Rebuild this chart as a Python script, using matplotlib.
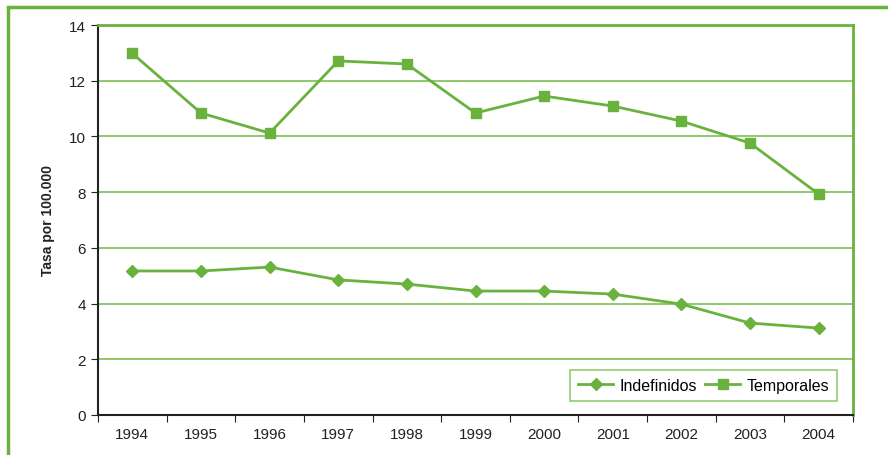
import matplotlib
matplotlib.use("Agg")
import matplotlib.pyplot as plt
from matplotlib.patches import Rectangle
from matplotlib.ticker import FixedLocator, NullFormatter

years = ["1994", "1995", "1996", "1997", "1998", "1999", "2000", "2001", "2002", "2003", "2004"]
indefinidos = [5.17, 5.17, 5.31, 4.85, 4.70, 4.45, 4.45, 4.34, 3.98, 3.30, 3.12]
temporales = [12.98, 10.84, 10.12, 12.71, 12.60, 10.84, 11.45, 11.09, 10.55, 9.76, 7.93]
yticks = [0, 2, 4, 6, 8, 10, 12, 14]

green = "#6ab23e"
gridc = "#7cbf52"

plt.rcParams['font.family'] = ['Liberation Sans', 'DejaVu Sans']

fig = plt.figure(figsize=(8.88, 4.56), dpi=100)
fig.patches.append(Rectangle((8/888, -0.2), 1.2, 1 - 8/456 + 0.2, transform=fig.transFigure,
                             fill=False, edgecolor=green, linewidth=2.5, zorder=0))
ax = fig.add_axes([98/888, 40/456, 755/888, 390/456])

x = list(range(len(years)))
ax.plot(x, indefinidos, color=green, lw=2, marker="D", ms=6, mec=green, mfc=green, label="Indefinidos")
ax.plot(x, temporales, color=green, lw=2, marker="s", ms=7, mec=green, mfc=green, label="Temporales")

ax.set_xlim(-0.5, len(years) - 0.5)
ax.set_ylim(0, 14)
ax.set_yticks(yticks)
ax.set_yticklabels([str(v) for v in yticks], fontsize=11, color="#222222")
ax.xaxis.set_major_locator(FixedLocator([i - 0.5 for i in range(len(years) + 1)]))
ax.xaxis.set_major_formatter(NullFormatter())
ax.xaxis.set_minor_locator(FixedLocator(x))
ax.set_xticklabels(years, minor=True, fontsize=11, color="#222222")
ax.tick_params(axis="x", which="minor", length=0, pad=9)
ax.tick_params(axis="x", which="major", length=5, color="#222222", direction="out")
ax.tick_params(axis="y", length=5, color="#222222", direction="out")

for v in yticks[1:-1]:
    ax.axhline(v, color=gridc, lw=1.2, zorder=0)
ax.spines["left"].set_color("#222222")
ax.spines["bottom"].set_color("#222222")
ax.spines["left"].set_linewidth(1.5)
ax.spines["bottom"].set_linewidth(1.5)
ax.spines["top"].set_color(green)
ax.spines["right"].set_color(green)
ax.spines["top"].set_linewidth(2)
ax.spines["right"].set_linewidth(2)

ax.set_ylabel("Tasa por 100.000", fontsize=10, fontweight="bold", color="#222222", labelpad=10)

leg = ax.legend(loc="lower right", bbox_to_anchor=(0.979, 0.036), ncol=2, frameon=True, fancybox=False,
                fontsize=11.5, handlelength=2.2, columnspacing=0.5, handletextpad=0.4, borderpad=0.5,
                borderaxespad=0)
leg.get_frame().set_edgecolor(gridc)
leg.get_frame().set_linewidth(1.2)

fig.savefig("out.png", dpi=100)
